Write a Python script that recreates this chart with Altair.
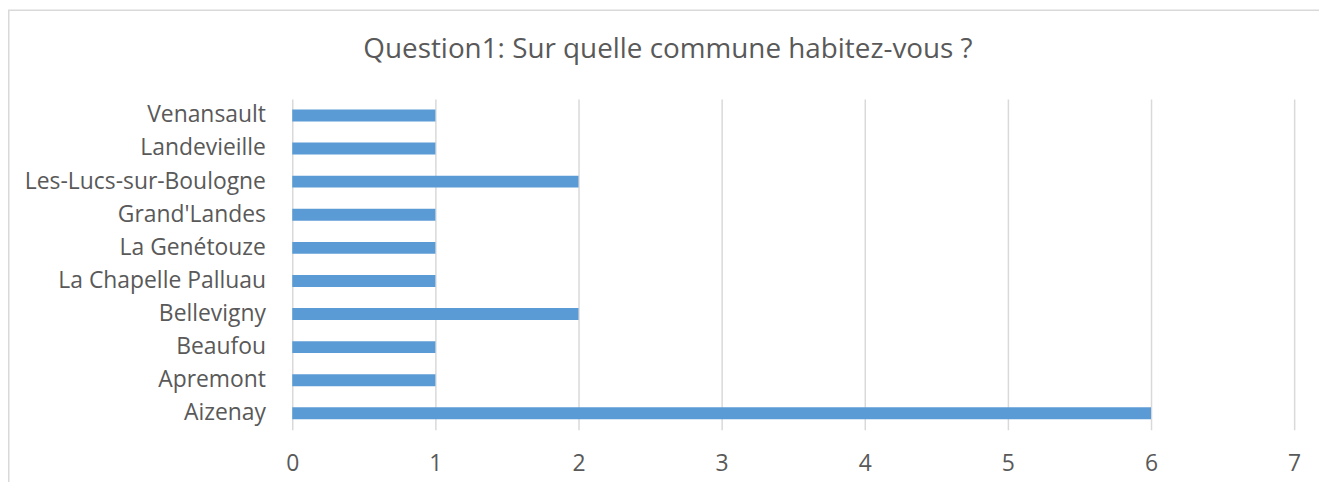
import altair as alt
import pandas as pd

communes = ["Venansault", "Landevieille", "Les-Lucs-sur-Boulogne", "Grand'Landes",
            "La Genétouze", "La Chapelle Palluau", "Bellevigny", "Beaufou",
            "Apremont", "Aizenay"]
reponses = [1, 1, 2, 1, 1, 1, 2, 1, 1, 6]
x_ticks = [0, 1, 2, 3, 4, 5, 6, 7]
titre = "Question1: Sur quelle commune habitez-vous ?"

df = pd.DataFrame({"commune": communes, "n": reponses})

W, H = 1008, 333
PAD_L, PAD_T, PAD_R, PAD_B = 286, 90, 25, 51
FONT = "Open Sans"
GREY = "#595959"

border = alt.Chart(pd.DataFrame({"a": [0]})).mark_rect(
    filled=False, stroke="#D9D9D9", strokeWidth=1.5
).encode(
    x=alt.value(-PAD_L + 0.75),
    x2=alt.value(W + PAD_R + 20),
    y=alt.value(-PAD_T + 0.75),
    y2=alt.value(H + PAD_B + 20),
)

title_mark = alt.Chart(pd.DataFrame({"t": [titre]})).mark_text(
    font=FONT, fontSize=28, color=GREY, align="center", baseline="alphabetic"
).encode(
    text="t:N",
    x=alt.value(378),
    y=alt.value(-41),
)

bars = alt.Chart(df).mark_bar(color="#5B9BD5").encode(
    x=alt.X("n:Q",
            scale=alt.Scale(domain=[0, 7], nice=False),
            axis=alt.Axis(values=x_ticks, title=None, domain=False, ticks=False,
                          grid=True, gridColor="#D9D9D9", gridWidth=1.5,
                          labelFont=FONT, labelFontSize=23, labelColor=GREY,
                          labelPadding=23, labelFlush=False)),
    y=alt.Y("commune:N", sort=communes,
            scale=alt.Scale(paddingInner=0.64, paddingOuter=0.32),
            axis=alt.Axis(title=None, domain=False, ticks=False, grid=False,
                          labelFont=FONT, labelFontSize=23, labelColor=GREY,
                          labelPadding=27, labelLimit=400)),
)

chart = alt.layer(border, title_mark, bars).properties(
    width=W, height=H,
    autosize=alt.AutoSizeParams(type="none"),
    padding={"left": PAD_L, "top": PAD_T, "right": PAD_R, "bottom": PAD_B},
).configure_view(stroke=None)

chart.save("out.html", embed_options={"renderer": "svg", "actions": False})
